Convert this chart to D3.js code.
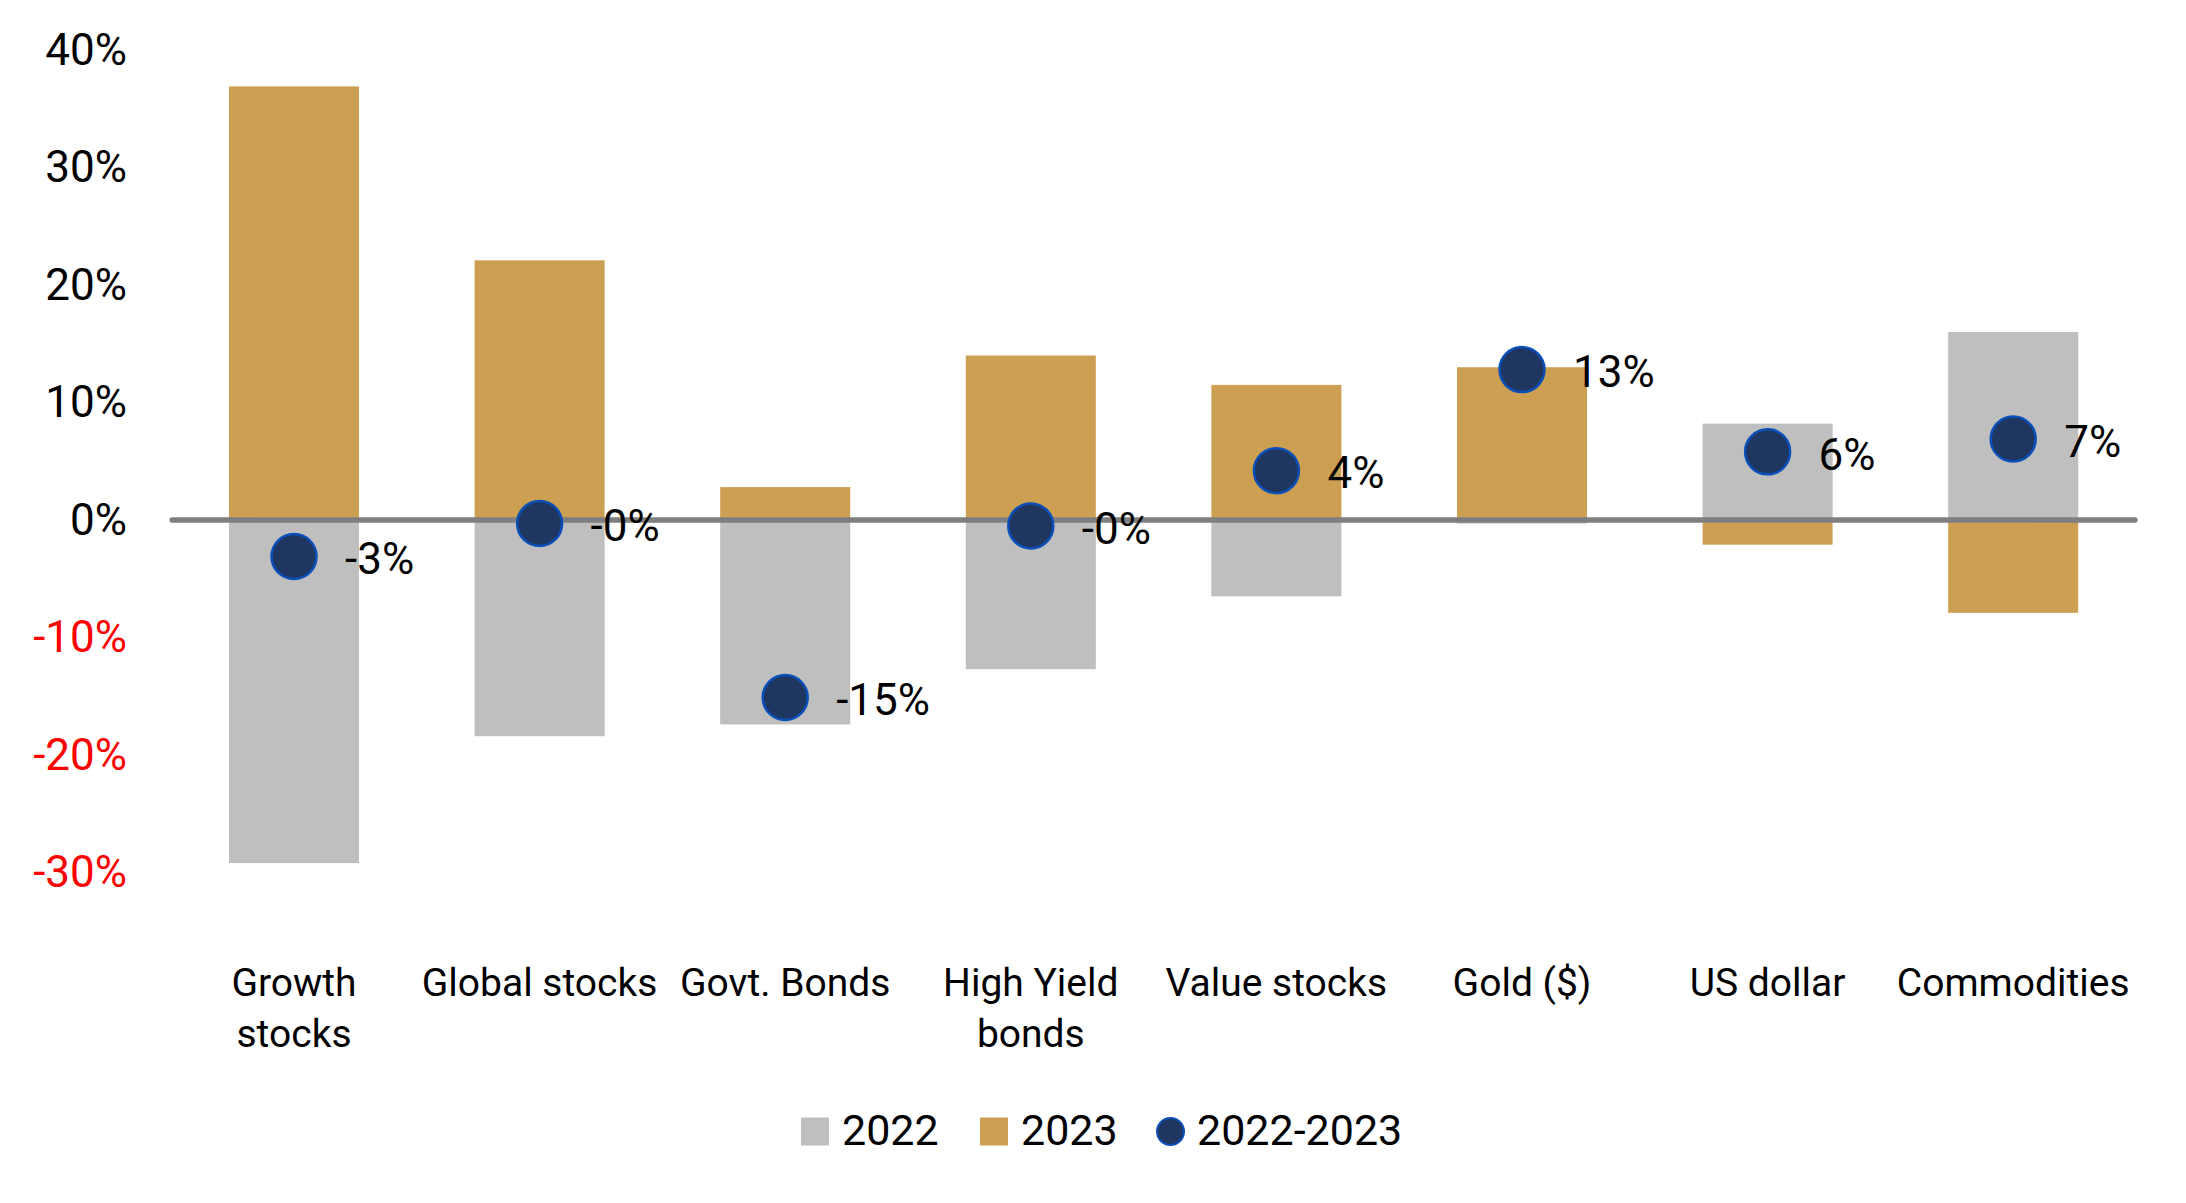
<!DOCTYPE html>
<html>
<head>
<meta charset="utf-8">
<script src="https://cdn.jsdelivr.net/npm/d3@7"></script>
<style>
  body { margin: 0; background: #fff; }
  svg { display: block; font-family: Roboto, "Noto Sans", sans-serif; }
</style>
</head>
<body>
<div id="chart"></div>
<script>
// Chart data (percent)
const categories = ["Growth stocks", "Global stocks", "Govt. Bonds", "High Yield bonds",
                    "Value stocks", "Gold ($)", "US dollar", "Commodities"];
const categoryLines = [["Growth", "stocks"], ["Global stocks"], ["Govt. Bonds"], ["High Yield", "bonds"],
                       ["Value stocks"], ["Gold ($)"], ["US dollar"], ["Commodities"]];
const values2022 = [-29.2, -18.4, -17.4, -12.7, -6.5, -0.3, 8.2, 16.0];
const values2023 = [36.9, 22.1, 2.8, 14.0, 11.5, 13.0, -2.1, -7.9];
const valuesBoth = [-3.1, -0.3, -15.1, -0.5, 4.2, 12.8, 5.8, 6.9];
const yTicks = [-30, -20, -10, 0, 10, 20, 30, 40];
const legendItems = ["2022", "2023", "2022-2023"];

const width = 2186;
const height = 1203;

const colors = {
    y2022: "#bfbfbf",
    y2023: "#cd9f53",
    dot: "#1e3660",
    dotStroke: "#0b4fb8",
    zero: "#7f7f7f"
};

const svg = d3.select("#chart").append("svg")
    .attr("width", width)
    .attr("height", height);

svg.append("rect").attr("width", width).attr("height", height).attr("fill", "#fff");

// Scales
const x = d3.scaleBand()
    .domain(categories)
    .range([171.2, 2136])
    .paddingInner(0.4707)
    .paddingOuter(0.23535);

const y = d3.scaleLinear()
    .domain([-30, 40])
    .range([872.5, 50]);

// Y axis labels (negative ones in red)
const yAxis = svg.append("g")
    .attr("transform", "translate(127,0)")
    .call(d3.axisLeft(y).tickValues(yTicks).tickSize(0).tickPadding(0)
        .tickFormat(d => d + "%"));
yAxis.select(".domain").remove();
yAxis.selectAll("text")
    .attr("font-family", "Roboto, sans-serif")
    .attr("font-size", 44)
    .attr("fill", d => d < 0 ? "#ff0000" : "#000");

// Bars
const rows = categories.map((c, i) => ({
    cat: c, v2022: values2022[i], v2023: values2023[i], both: valuesBoth[i]
}));

svg.append("g").selectAll("rect")
    .data(rows)
    .enter()
    .append("rect")
    .attr("x", d => x(d.cat))
    .attr("width", x.bandwidth())
    .attr("y", d => y(Math.max(0, d.v2022)))
    .attr("height", d => Math.abs(y(d.v2022) - y(0)))
    .attr("fill", colors.y2022);

svg.append("g").selectAll("rect")
    .data(rows)
    .enter()
    .append("rect")
    .attr("x", d => x(d.cat))
    .attr("width", x.bandwidth())
    .attr("y", d => y(Math.max(0, d.v2023)))
    .attr("height", d => Math.abs(y(d.v2023) - y(0)))
    .attr("fill", colors.y2023);

// Zero line
svg.append("line")
    .attr("x1", 172)
    .attr("x2", 2135)
    .attr("y1", y(0))
    .attr("y2", y(0))
    .attr("stroke", colors.zero)
    .attr("stroke-width", 5.3)
    .attr("stroke-linecap", "round");

// Dots and their labels
const fmt = v => (v < 0 ? "-" : "") + Math.abs(Math.round(v)) + "%";

const dot = svg.append("g").selectAll("g")
    .data(rows)
    .enter()
    .append("g")
    .attr("transform", d => `translate(${x(d.cat) + x.bandwidth() / 2},${y(d.both)})`);

dot.append("circle")
    .attr("r", 22.5)
    .attr("fill", colors.dot)
    .attr("stroke", colors.dotStroke)
    .attr("stroke-width", 2.5);

dot.append("text")
    .attr("x", 51)
    .attr("y", 2)
    .attr("dy", "0.36em")
    .attr("font-size", 44)
    .attr("fill", "#000")
    .text(d => fmt(d.both));

// Category labels
const catLabel = svg.append("g").selectAll("text")
    .data(categories)
    .enter()
    .append("text")
    .attr("x", d => x(d) + x.bandwidth() / 2)
    .attr("y", 996)
    .attr("text-anchor", "middle")
    .attr("font-size", 39)
    .attr("fill", "#000");

catLabel.selectAll("tspan")
    .data((d, i) => categoryLines[i])
    .enter()
    .append("tspan")
    .attr("x", function () { return d3.select(this.parentNode).attr("x"); })
    .attr("dy", (d, i) => i === 0 ? 0 : 51)
    .text(d => d);

// Legend
const legendX = [801, 980, 1156];
const legend = svg.append("g").selectAll("g")
    .data(legendItems)
    .enter()
    .append("g")
    .attr("transform", (d, i) => `translate(${legendX[i]},1131.5)`);

legend.filter((d, i) => i < 2).append("rect")
    .attr("x", 0)
    .attr("y", -14)
    .attr("width", 28)
    .attr("height", 28)
    .attr("fill", (d, i) => i === 0 ? colors.y2022 : colors.y2023);

legend.filter((d, i) => i === 2).append("circle")
    .attr("cx", 14.5)
    .attr("cy", 0)
    .attr("r", 13.5)
    .attr("fill", colors.dot)
    .attr("stroke", colors.dotStroke)
    .attr("stroke-width", 2);

legend.append("text")
    .attr("x", 41)
    .attr("y", 13.5)
    .attr("font-size", 43)
    .attr("fill", "#000")
    .text(d => d);
</script>
</body>
</html>
